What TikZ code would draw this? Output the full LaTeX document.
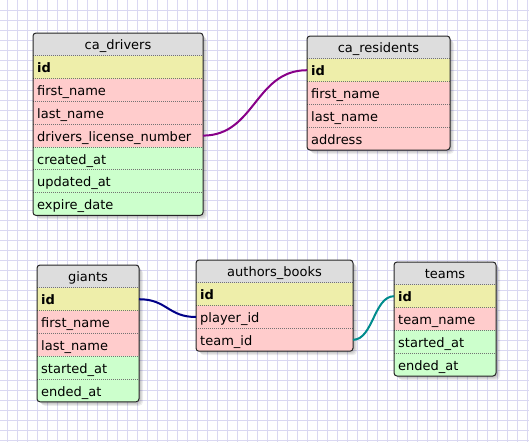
\documentclass[tikz,border=0pt]{standalone}
\usepackage{fontspec}
\setmainfont{DejaVu Sans}
\definecolor{gridc}{RGB}{218,216,242}
\definecolor{hdrc}{RGB}{221,221,221}
\definecolor{idc}{RGB}{238,238,170}
\definecolor{redc}{RGB}{255,204,204}
\definecolor{grnc}{RGB}{204,255,204}
\definecolor{purp}{RGB}{136,0,136}
\definecolor{navyc}{RGB}{0,0,136}
\definecolor{tealc}{RGB}{0,140,140}
\tikzset{
 cell/.style={anchor=north west, inner sep=0pt, outer sep=0pt, minimum height=22.8pt},
 lbl/.style={anchor=base west, inner sep=0pt, font=\fontsize{13}{15}\selectfont},
 ttl/.style={anchor=base, inner sep=0pt, font=\fontsize{13}{15}\selectfont},
 sep/.style={draw=black!55, line width=0.7pt, dash pattern=on 1pt off 1pt},
 frame/.style={draw=black!85, line width=1pt, rounded corners=3pt},
 link/.style={line width=2pt},
 gridline/.style={draw=gridc, line width=1pt},
}
\newcommand{\dbtable}[7]{%
 \foreach \s in {1,...,4}{
   \fill[black, opacity=0.07, rounded corners=4pt] (#2+\s, #3+\s) rectangle (#2+#4+\s, {#3+(#5+1)*22.8+\s});
 }
 \begin{scope}
 \clip[rounded corners=3pt] (#2,#3) rectangle (#2+#4, {#3+(#5+1)*22.8});
 \node[cell, minimum width=#4pt, fill=hdrc] (#1-0) at (#2,#3) {};
 \foreach \c/\t [count=\i] in {#7}{
   \node[cell, minimum width=#4pt, fill=\c] (#1-\i) at (#2, {#3+\i*22.8}) {};
   \node[lbl] at (#2+4, {#3+\i*22.8+17}) {\t};
   \draw[sep] (#2, {#3+\i*22.8}) -- ++(#4, 0);
 }
 \end{scope}
 \node[ttl] at (#2+#4/2, #3+16) {#6};
 \draw[frame] (#2,#3) rectangle (#2+#4, {#3+(#5+1)*22.8});
}
\begin{document}
\begin{tikzpicture}[x=1pt,y=-1pt]
\useasboundingbox (0,0) rectangle (529,442);
\fill[white] (0,0) rectangle (529,442);
\foreach \k in {0,...,52} \draw[gridline] (7.5+10*\k,0) -- (7.5+10*\k,442);
\foreach \k in {1,...,44} \draw[gridline] (0,10*\k+0.5) -- (529,10*\k+0.5);

\dbtable{cd}{33}{33}{170}{7}{ca\_drivers}{idc/\textbf{id}, redc/first\_name, redc/last\_name, redc/drivers\_license\_number, grnc/created\_at, grnc/updated\_at, grnc/expire\_date}
\dbtable{cr}{307}{36}{143}{4}{ca\_residents}{idc/\textbf{id}, redc/first\_name, redc/last\_name, redc/address}
\dbtable{gi}{37}{265}{102}{5}{giants}{idc/\textbf{id}, redc/first\_name, redc/last\_name, grnc/started\_at, grnc/ended\_at}
\dbtable{ab}{196}{260}{157}{3}{authors\_books}{idc/\textbf{id}, redc/player\_id, redc/team\_id}
\dbtable{tm}{394}{262}{102}{4}{teams}{idc/\textbf{id}, redc/team\_name, grnc/started\_at, grnc/ended\_at}

\draw[link, purp] (cd-4.east) .. controls +(52,0) and +(-52,0) .. (cr-1.west);
\draw[link, navyc] (gi-1.east) .. controls +(28,0) and +(-28,0) .. (ab-2.west);
\draw[link, tealc] (ab-3.east) .. controls +(20,0) and +(-20,0) .. (tm-1.west);
\end{tikzpicture}
\end{document}
